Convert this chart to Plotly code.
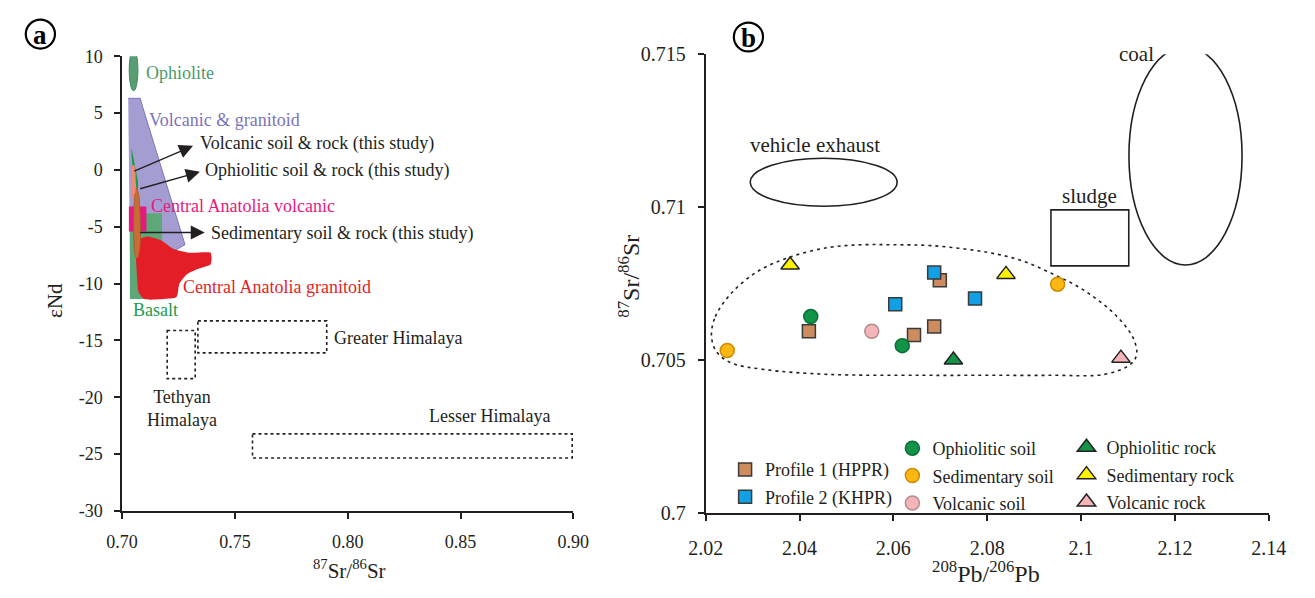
import plotly.graph_objects as go

W, H = 1315, 598
SERIF = "Liberation Serif, Times New Roman, serif"
INK = "#231f20"

# ---------------- Panel a : eNd vs 87Sr/86Sr ----------------
A_XTICKS = [0.70, 0.75, 0.80, 0.85, 0.90]
A_XTICKTEXT = ["0.70", "0.75", "0.80", "0.85", "0.90"]
A_YTICKS = [10, 5, 0, -5, -10, -15, -20, -25, -30]
A_YTICKTEXT = ["10", "5", "0", "-5", "-10", "-15", "-20", "-25", "-30"]

OPHIOLITE_X = [0.70315, 0.70703]
OPHIOLITE_Y = [6.97, 10.59]

VG_X = [0.70272, 0.70806, 0.70918, 0.72789, 0.72284, 0.70345]
VG_Y = [6.30, 6.30, 5.51, -6.58, -7.14, -6.92]

BASALT_X = [0.70345, 0.71767, 0.71767, 0.70345]
BASALT_Y = [-3.81, -3.81, -11.36, -11.36]

GRAN_X = [0.70690, 0.71121, 0.71724, 0.72284, 0.73017, 0.73922, 0.73966, 0.73922,
          0.73448, 0.72888, 0.72543, 0.72414, 0.71853, 0.70991, 0.70733, 0.70647, 0.70603]
GRAN_Y = [-6.10, -5.85, -6.19, -6.95, -7.29, -7.29, -7.80, -8.31,
          -8.64, -9.15, -10.00, -11.19, -11.36, -11.36, -10.76, -8.90, -7.20]

CAV_X = [0.70302, 0.71078, 0.71078, 0.70302]
CAV_Y = [-3.22, -3.22, -5.42, -5.42]

OPH_STUDY_X = [0.70418, 0.70591, 0.70703, 0.70703, 0.70659, 0.70530, 0.70487, 0.70418]
OPH_STUDY_Y = [1.97, 0.14, -0.99, -1.69, -2.54, -2.26, -0.42, 1.27]

VOLC_STUDY_X = [0.70431, 0.70539, 0.70603, 0.70603, 0.70474, 0.70431]
VOLC_STUDY_Y = [0.42, 0.42, -0.85, -2.54, -2.54, -0.85]

SED_STUDY_X = [0.70621, 0.70733, 0.70797, 0.70819, 0.70754, 0.70668, 0.70582, 0.70517, 0.70517, 0.70560]
SED_STUDY_Y = [-1.53, -2.12, -3.81, -5.93, -7.37, -7.80, -7.54, -5.93, -3.81, -2.12]

TETHYAN_X = [0.7200, 0.7324]
TETHYAN_Y = [-14.13, -18.36]
GREATER_X = [0.7336, 0.7907]
GREATER_Y = [-13.28, -16.10]
LESSER_X = [0.7578, 0.8995]
LESSER_Y = [-23.22, -25.34]

# arrows: tail -> head
ARROW_TAIL_X = [0.70474, 0.70733, 0.70733]
ARROW_TAIL_Y = [-0.17, -1.69, -5.51]
ARROW_HEAD_X = [0.73147, 0.73448, 0.73664]
ARROW_HEAD_Y = [2.12, -0.17, -5.51]

# ---------------- Panel b : 87Sr/86Sr vs 208Pb/206Pb ----------------
B_XTICKS = [2.02, 2.04, 2.06, 2.08, 2.10, 2.12, 2.14]
B_XTICKTEXT = ["2.02", "2.04", "2.06", "2.08", "2.1", "2.12", "2.14"]
B_YTICKS = [0.700, 0.705, 0.710, 0.715]
B_YTICKTEXT = ["0.7", "0.705", "0.71", "0.715"]

P1_X = [2.0420, 2.0644, 2.0687, 2.0699]
P1_Y = [0.70594, 0.70582, 0.70610, 0.70761]
P2_X = [2.0604, 2.0687, 2.0774]
P2_Y = [0.70682, 0.70786, 0.70701]
OPH_SOIL_X = [2.0424, 2.0619]
OPH_SOIL_Y = [0.70642, 0.70547]
SED_SOIL_X = [2.0246, 2.0950]
SED_SOIL_Y = [0.70531, 0.70748]
VOL_SOIL_X = [2.0554]
VOL_SOIL_Y = [0.70594]
OPH_ROCK_X = [2.0728]
OPH_ROCK_Y = [0.70500]
SED_ROCK_X = [2.0380, 2.0840]
SED_ROCK_Y = [0.70811, 0.70780]
VOL_ROCK_X = [2.1085]
VOL_ROCK_Y = [0.70506]

ENCL_X = [2.02124, 2.02207, 2.02539, 2.03098, 2.03782, 2.04611, 2.05316, 2.06000, 2.06829,
          2.08010, 2.08694, 2.09378, 2.10083, 2.10767, 2.11119, 2.11181, 2.11036, 2.10497,
          2.09378, 2.08010, 2.06622, 2.04611, 2.03244, 2.02539, 2.02228, 2.02124]
ENCL_Y = [0.70579, 0.70642, 0.70717, 0.70789, 0.70836, 0.70868, 0.70877, 0.70877, 0.70874,
          0.70852, 0.70827, 0.70783, 0.70726, 0.70642, 0.70569, 0.70516, 0.70484, 0.70453,
          0.70450, 0.70450, 0.70450, 0.70453, 0.70469, 0.70491, 0.70528, 0.70579]

VEHICLE_X = [2.0295, 2.0608]
VEHICLE_Y = [0.71003, 0.71160]
COAL_X = [2.1102, 2.1343]
COAL_Y = [0.70811, 0.71525]
SLUDGE_X = [2.09358, 2.11016]
SLUDGE_Y = [0.70808, 0.70991]

# ---------------- helpers: pixels -> paper ----------------
def px(xp):
    return xp / W

def py(yp):
    return 1 - yp / H

fig = go.Figure()

def poly(xs, ys, fill, line=None, lw=0, shape="linear", smoothing=1.0):
    fig.add_trace(go.Scatter(
        x=xs, y=ys, xaxis="x", yaxis="y", mode="lines", fill="toself",
        fillcolor=fill, line=dict(color=line or fill, width=lw, shape=shape, smoothing=smoothing),
        hoverinfo="skip", showlegend=False))

poly(VG_X, VG_Y, "#a49dd1", line="#7d74bb", lw=1)
poly(BASALT_X, BASALT_Y, "#5ea877")
poly(GRAN_X, GRAN_Y, "#e41e26", shape="spline", smoothing=0.6)
poly(CAV_X, CAV_Y, "#e6197f")
poly(OPH_STUDY_X, OPH_STUDY_Y, "#15a040", shape="spline", smoothing=0.8)
poly(VOLC_STUDY_X, VOLC_STUDY_Y, "#f08a74", shape="spline", smoothing=0.8)
poly(SED_STUDY_X, SED_STUDY_Y, "#c66d35", line="#a85a2a", lw=0.8, shape="spline", smoothing=0.8)

shapes = []
shapes.append(dict(type="circle", xref="x", yref="y",
                   x0=OPHIOLITE_X[0], x1=OPHIOLITE_X[1], y0=OPHIOLITE_Y[0], y1=OPHIOLITE_Y[1],
                   fillcolor="#5a9c74", line=dict(color="#3f8a5e", width=1)))
for xs, ys in [(TETHYAN_X, TETHYAN_Y), (GREATER_X, GREATER_Y), (LESSER_X, LESSER_Y)]:
    shapes.append(dict(type="rect", xref="x", yref="y", x0=xs[0], x1=xs[1], y0=ys[0], y1=ys[1],
                       line=dict(color=INK, width=1.6, dash="3px,3px")))

# panel b: dotted enclosure
fig.add_trace(go.Scatter(x=ENCL_X, y=ENCL_Y, xaxis="x2", yaxis="y2", mode="lines",
                         line=dict(color=INK, width=1.6, dash="3px,4px", shape="spline", smoothing=1.0),
                         hoverinfo="skip", showlegend=False))

def pts(xs, ys, name, symbol, color, lcolor, size, legend, group):
    fig.add_trace(go.Scatter(
        x=xs, y=ys, xaxis="x2", yaxis="y2", mode="markers", name=name,
        marker=dict(symbol=symbol, color=color, size=size, line=dict(color=lcolor, width=1.5)),
        legend=legend, legendgroup=group))

pts(P1_X, P1_Y, "Profile 1 (HPPR)", "square", "#cd8c5e", "#3a3a3a", 13, "legend", "p1")
pts(P2_X, P2_Y, "Profile 2 (KHPR)", "square", "#12a0e4", "#3a3a3a", 13, "legend", "p2")
pts(OPH_SOIL_X, OPH_SOIL_Y, "Ophiolitic soil", "circle", "#119447", "#0b7035", 14, "legend2", "os")
pts(SED_SOIL_X, SED_SOIL_Y, "Sedimentary soil", "circle", "#fbb812", "#d08a00", 14, "legend2", "ss")
pts(VOL_SOIL_X, VOL_SOIL_Y, "Volcanic soil", "circle", "#f5b5b8", "#b08a8c", 14, "legend2", "vs")
pts(OPH_ROCK_X, OPH_ROCK_Y, "Ophiolitic rock", "triangle-up", "#139447", "#222222", 16, "legend3", "or")
pts(SED_ROCK_X, SED_ROCK_Y, "Sedimentary rock", "triangle-up", "#fff200", "#222222", 16, "legend3", "sr")
pts(VOL_ROCK_X, VOL_ROCK_Y, "Volcanic rock", "triangle-up", "#f5b5b8", "#222222", 16, "legend3", "vr")

shapes.append(dict(type="circle", xref="x2", yref="y2", x0=VEHICLE_X[0], x1=VEHICLE_X[1],
                   y0=VEHICLE_Y[0], y1=VEHICLE_Y[1], line=dict(color=INK, width=1.6)))
shapes.append(dict(type="circle", xref="x2", yref="y2", x0=COAL_X[0], x1=COAL_X[1],
                   y0=COAL_Y[0], y1=COAL_Y[1], line=dict(color=INK, width=1.6)))
shapes.append(dict(type="rect", xref="x2", yref="y2", x0=SLUDGE_X[0], x1=SLUDGE_X[1],
                   y0=SLUDGE_Y[0], y1=SLUDGE_Y[1], line=dict(color=INK, width=1.6)))

# circled panel letters
for cx, cy in [(23, 24), (751, 27)]:
    shapes.append(dict(type="circle", xref="paper", yref="paper",
                       x0=px(cx - 15), x1=px(cx + 15), y0=py(cy + 15), y1=py(cy - 15),
                       line=dict(color="#000", width=2.2)))

ann = []
def label(x, y, text, color=INK, size=18, xanchor="left", xref="x", yref="y", angle=0):
    ann.append(dict(x=x, y=y, xref=xref, yref=yref, text=text, showarrow=False,
                    xanchor=xanchor, yanchor="middle", textangle=angle,
                    font=dict(family=SERIF, size=size, color=color)))

label(0.70961, 8.53, "Ophiolite", "#4b9a6c")
label(0.71108, 4.38, "Volcanic &amp; granitoid", "#7b73ba")
label(0.73362, 2.31, "Volcanic soil &amp; rock (this study)")
label(0.73606, -0.06, "Ophiolitic soil &amp; rock (this study)")
label(0.71177, -3.19, "Central Anatolia volcanic", "#e6197f")
label(0.73866, -5.57, "Sedimentary soil &amp; rock (this study)")
label(0.72616, -10.31, "Central Anatolia granitoid", "#e41e26")
label(0.70388, -12.29, "Basalt", "#1e9a4e")
label(0.79316, -14.83, "Greater Himalaya")
label(0.72638, -20.97, "Tethyan<br>Himalaya", xanchor="center")
label(0.8629, -21.61, "Lesser Himalaya", xanchor="center")

for tx, ty, hx, hy in zip(ARROW_TAIL_X, ARROW_TAIL_Y, ARROW_HEAD_X, ARROW_HEAD_Y):
    ann.append(dict(x=hx, y=hy, ax=tx, ay=ty, xref="x", yref="y", axref="x", ayref="y",
                    showarrow=True, arrowhead=2, arrowsize=2.0, arrowwidth=1.4,
                    arrowcolor=INK, text=""))

label(2.0434, 0.71204, "vehicle exhaust", size=21, xanchor="center", xref="x2", yref="y2")
label(2.1019, 0.71035, "sludge", size=21, xanchor="center", xref="x2", yref="y2")
label(2.1160, 0.71500, "coal", size=21, xanchor="right", xref="x2", yref="y2")

# axis titles
label(px(38), py(300), "εNd", size=21, xanchor="center", xref="paper", yref="paper", angle=-90)
label(px(341), py(580), "<sup>87</sup>Sr/<sup>86</sup>Sr", size=21, xanchor="center",
      xref="paper", yref="paper")
label(px(628), py(275), "<sup>87</sup>Sr/<sup>86</sup>Sr", size=24, xanchor="center",
      xref="paper", yref="paper", angle=-90)
label(px(995), py(582), "<sup>208</sup>Pb/<sup>206</sup>Pb", size=24, xanchor="center",
      xref="paper", yref="paper")

# panel letters
for cx, cy, t in [(23, 24, "a"), (751, 27, "b")]:
    ann.append(dict(x=px(cx), y=py(cy + 1), xref="paper", yref="paper", text="<b>%s</b>" % t,
                    showarrow=False, xanchor="center", yanchor="middle",
                    font=dict(family=SERIF, size=27, color="#000")))

axis_common = dict(showline=True, linecolor=INK, linewidth=1.6, ticks="outside", ticklen=6,
                   tickwidth=1.6, tickcolor=INK, showgrid=False, zeroline=False,
                   tickfont=dict(family=SERIF, size=18, color=INK), fixedrange=True)

legend_common = dict(font=dict(family=SERIF, size=18, color=INK), bgcolor="rgba(0,0,0,0)",
                     traceorder="grouped", tracegroupgap=1, itemclick=False,
                     xanchor="left", yanchor="top", borderwidth=0)

fig.update_layout(
    width=W, height=H, margin=dict(l=0, r=0, t=0, b=0),
    paper_bgcolor="white", plot_bgcolor="white",
    xaxis=dict(domain=[px(107), px(571)], range=[0.70, 0.90], anchor="y",
               tickvals=A_XTICKS, ticktext=A_XTICKTEXT, ticklabelstandoff=8, **axis_common),
    yaxis=dict(domain=[py(519), py(47)], range=[-30, 10], anchor="x",
               tickvals=A_YTICKS, ticktext=A_YTICKTEXT, ticklabelstandoff=8, **axis_common),
    xaxis2=dict(domain=[px(707), px(1286)], range=[2.02, 2.14], anchor="y2",
                tickvals=B_XTICKS, ticktext=B_XTICKTEXT, ticklabelstandoff=10,
                **{**axis_common, "tickfont": dict(family=SERIF, size=20, color=INK)}),
    yaxis2=dict(domain=[py(521), py(45)], range=[0.700, 0.715], anchor="x2",
                tickvals=B_YTICKS, ticktext=B_YTICKTEXT, ticklabelstandoff=8,
                **{**axis_common, "tickfont": dict(family=SERIF, size=20, color=INK)}),
    shapes=shapes, annotations=ann,
    legend=dict(x=px(727), y=py(457), **legend_common),
    legend2=dict(x=px(899), y=py(435), **legend_common),
    legend3=dict(x=px(1078), y=py(434), **legend_common),
)

fig.write_html("out.html")
